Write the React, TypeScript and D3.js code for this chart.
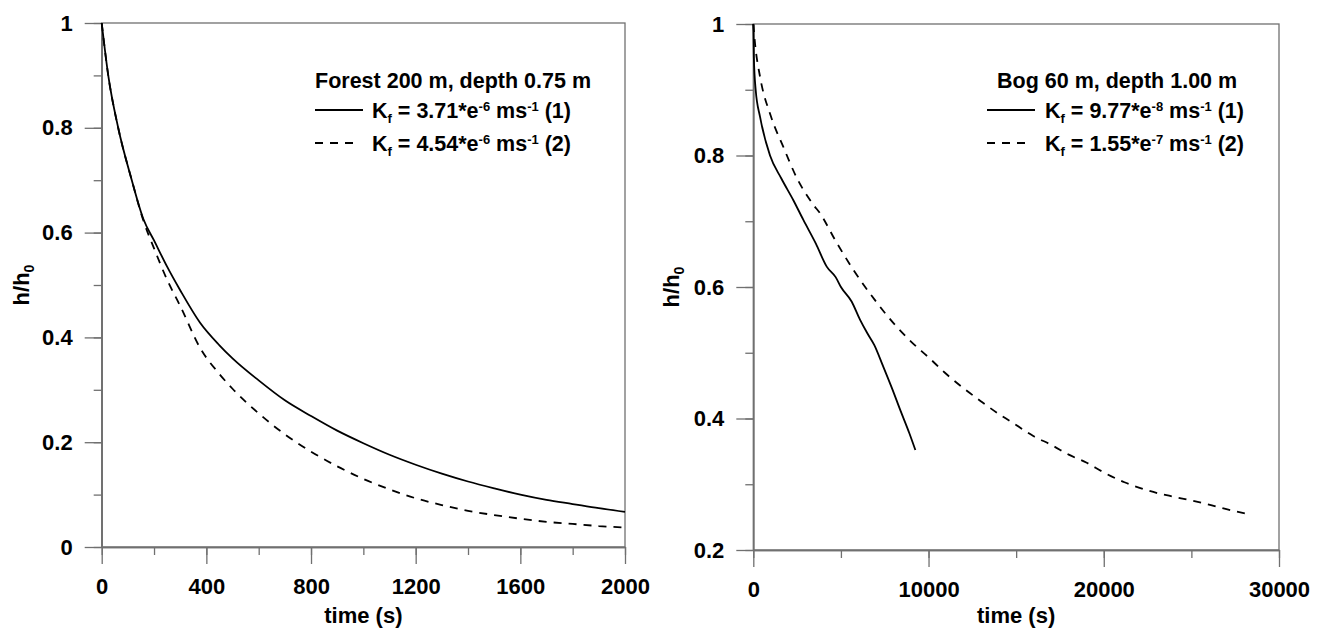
import React, { useEffect, useRef } from 'react';
import * as d3 from 'd3';

// Forest 200 m panel
const forestTime = [0, 25, 63, 115, 160, 200, 250, 300, 376, 450, 500, 600, 700, 800, 900, 1000, 1100, 1200, 1300, 1400, 1500, 1600, 1700, 1800, 1900, 2000];
const forestK1 = [1, 0.9, 0.8, 0.7, 0.625, 0.585, 0.535, 0.49, 0.428, 0.385, 0.36, 0.318, 0.28, 0.25, 0.222, 0.198, 0.176, 0.157, 0.14, 0.125, 0.112, 0.1, 0.09, 0.082, 0.074, 0.067];
const forestK2 = [1, 0.9, 0.8, 0.7, 0.622, 0.57, 0.51, 0.46, 0.38, 0.33, 0.302, 0.255, 0.215, 0.182, 0.154, 0.13, 0.11, 0.093, 0.08, 0.069, 0.061, 0.054, 0.048, 0.044, 0.04, 0.037];

// Bog 60 m panel
const bogTime1 = [0, 30, 135, 383, 954, 1600, 2286, 2857, 3571, 4190, 4700, 5000, 5610, 6095, 6500, 6900, 7400, 7900, 8400, 8900, 9250];
const bogK1 = [1, 0.95, 0.9, 0.859, 0.8, 0.765, 0.732, 0.702, 0.666, 0.631, 0.615, 0.6, 0.578, 0.55, 0.53, 0.512, 0.48, 0.447, 0.412, 0.378, 0.352];
const bogTime2 = [0, 100, 383, 1000, 1714, 2500, 3429, 3810, 4700, 5714, 7000, 8000, 9000, 10000, 11000, 12000, 13000, 14000, 15000, 16000, 17000, 18000, 19000, 20000, 21180, 22000, 23140, 24000, 25046, 26000, 27000, 28190];
const bogK2 = [1, 0.97, 0.92, 0.86, 0.813, 0.765, 0.725, 0.712, 0.67, 0.626, 0.578, 0.545, 0.517, 0.493, 0.468, 0.446, 0.426, 0.407, 0.39, 0.373, 0.36, 0.345, 0.333, 0.318, 0.303, 0.295, 0.286, 0.281, 0.275, 0.269, 0.262, 0.255];

const forestXTicks = [0, 400, 800, 1200, 1600, 2000];
const bogXTicks = [0, 10000, 20000, 30000];
const forestYTicks = [0, 0.2, 0.4, 0.6, 0.8, 1];
const bogYTicks = [0.2, 0.4, 0.6, 0.8, 1];

const FONT = '"Liberation Sans", Arial, Helvetica, sans-serif';
const AXIS = '#707070';

const panels = [
  {
    xDomain: [0, 2000], xRange: [101.7, 625], yDomain: [0, 1], yRange: [547, 23],
    xTicks: forestXTicks, xMinor: d3.range(0, 2001, 200), yTicks: forestYTicks, yMinor: d3.range(0, 1.001, 0.1),
    series: [
      { t: forestTime, v: forestK1, dash: null },
      { t: forestTime, v: forestK2, dash: '8,7' },
    ],
    title: 'Forest 200 m, depth 0.75 m', titleX: 315, lineX: 315, textX: 372,
    labels: [['3.71', '-6', '(1)'], ['4.54', '-6', '(2)']],
    yLabelX: 29,
  },
  {
    xDomain: [0, 30000], xRange: [753.3, 1279], yDomain: [0.2, 1], yRange: [550, 24],
    xTicks: bogXTicks, xMinor: d3.range(0, 30001, 5000), yTicks: bogYTicks, yMinor: d3.range(0.2, 1.001, 0.1),
    series: [
      { t: bogTime1, v: bogK1, dash: null },
      { t: bogTime2, v: bogK2, dash: '8,7' },
    ],
    title: 'Bog 60 m, depth 1.00 m', titleX: 997, lineX: 987, textX: 1045,
    labels: [['9.77', '-8', '(1)'], ['1.55', '-7', '(2)']],
    yLabelX: 679,
  },
];

const App = () => {
  const svgRef = useRef(null);

  useEffect(() => {
    const svg = d3.select(svgRef.current);
    svg.selectAll('*').remove();

    panels.forEach((p) => {
      const x = d3.scaleLinear().domain(p.xDomain).range(p.xRange);
      const y = d3.scaleLinear().domain(p.yDomain).range(p.yRange);
      const g = svg.append('g');
      const x0 = p.xRange[0], x1 = p.xRange[1], y0 = p.yRange[0], y1 = p.yRange[1];

      // frame
      g.append('rect')
        .attr('x', x0).attr('y', y1)
        .attr('width', x1 - x0).attr('height', y0 - y1)
        .attr('fill', 'none').attr('stroke', AXIS).attr('stroke-width', 1.3);

      // minor ticks
      g.append('g').attr('transform', `translate(0,${y0})`)
        .call(d3.axisBottom(x).tickValues(p.xMinor).tickSize(8).tickSizeOuter(0).tickFormat(() => ''));
      g.append('g').attr('transform', `translate(${x0},0)`)
        .call(d3.axisLeft(y).tickValues(p.yMinor).tickSize(8).tickSizeOuter(0).tickFormat(() => ''));

      // major ticks
      g.append('g').attr('transform', `translate(0,${y0})`)
        .call(d3.axisBottom(x).tickValues(p.xTicks).tickSize(17).tickSizeOuter(0).tickPadding(14).tickFormat(d3.format('d')));
      g.append('g').attr('transform', `translate(${x0},0)`)
        .call(d3.axisLeft(y).tickValues(p.yTicks).tickSize(17).tickSizeOuter(0).tickPadding(12).tickFormat((d) => String(+d.toFixed(1))));

      g.selectAll('.domain').attr('stroke', AXIS).attr('stroke-width', 1.3);
      g.selectAll('.tick line').attr('stroke', AXIS).attr('stroke-width', 1.3);
      g.selectAll('.tick text')
        .attr('fill', '#000').style('font-family', FONT).style('font-weight', 'bold').style('font-size', '22px');

      // curves
      const line = d3.line().curve(d3.curveMonotoneX);
      p.series.forEach((s) => {
        const pts = s.t.map((t, i) => [x(t), y(s.v[i])]);
        g.append('path')
          .attr('d', line(pts))
          .attr('fill', 'none').attr('stroke', '#000').attr('stroke-width', 1.8)
          .attr('stroke-dasharray', s.dash);
      });

      // axis titles
      g.append('text')
        .attr('x', (x0 + x1) / 2).attr('y', 623)
        .attr('text-anchor', 'middle')
        .style('font-family', FONT).style('font-weight', 'bold').style('font-size', '22px')
        .text('time (s)');

      const yl = g.append('text')
        .attr('transform', `translate(${p.yLabelX},${(y0 + y1) / 2}) rotate(-90)`)
        .attr('text-anchor', 'middle')
        .style('font-family', FONT).style('font-weight', 'bold').style('font-size', '22px');
      yl.append('tspan').text('h/h');
      yl.append('tspan').attr('dy', 5).style('font-size', '14px').text('0');

      // legend
      const lg = g.append('g').style('font-family', FONT).style('font-weight', 'bold').style('font-size', '21.5px');
      lg.append('text').attr('x', p.titleX).attr('y', 87.5).text(p.title);
      [110, 143].forEach((ly, i) => {
        const s = p.series[i];
        lg.append('line')
          .attr('x1', p.lineX).attr('x2', p.lineX + (s.dash ? 38 : 48))
          .attr('y1', ly).attr('y2', ly)
          .attr('stroke', '#000').attr('stroke-width', 1.8)
          .attr('stroke-dasharray', s.dash);
        const [k, e, n] = p.labels[i];
        const t = lg.append('text').attr('x', p.textX).attr('y', ly + 8);
        t.append('tspan').text('K');
        t.append('tspan').attr('dy', 5).style('font-size', '13px').text('f');
        t.append('tspan').attr('dy', -5).text(` = ${k}*e`);
        t.append('tspan').attr('dy', -7).style('font-size', '13px').text(e);
        t.append('tspan').attr('dy', 7).text(' ms');
        t.append('tspan').attr('dy', -7).style('font-size', '13px').text('-1');
        t.append('tspan').attr('dy', 7).text(` ${n}`);
      });
    });
  }, []);

  return (
    <svg ref={svgRef} width={1324} height={630}
      style={{ position: 'absolute', left: 0, top: 0, background: '#fff' }} />
  );
};

export default App;
